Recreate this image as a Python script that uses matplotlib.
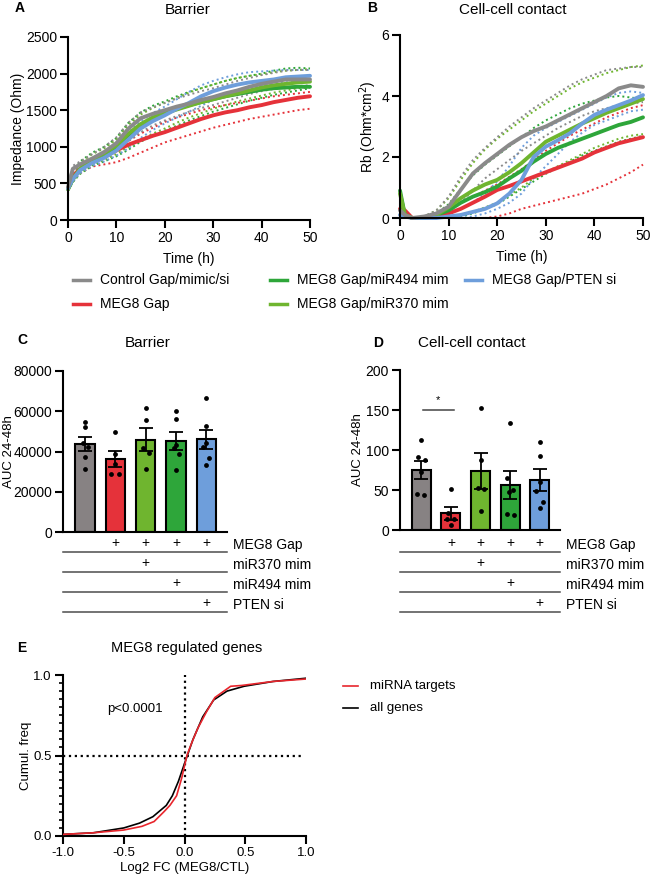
import numpy as np
import matplotlib.pyplot as plt
from matplotlib.lines import Line2D

plt.rcParams['font.family'] = ['Liberation Sans', 'DejaVu Sans']
plt.rcParams['axes.unicode_minus'] = False

# ---------------- data ----------------
# A / B: impedance time course (h), mean curves + two replicate curves per group
time_h = [0, 1, 2.5, 5, 7.5, 10, 12.5, 15, 17.5, 20, 22.5, 25, 27.5, 30, 32.5, 35, 37.5, 40, 42.5, 45, 47.5, 50]

groups = ['Control Gap/mimic/si', 'MEG8 Gap', 'MEG8 Gap/miR370 mim', 'MEG8 Gap/miR494 mim', 'MEG8 Gap/PTEN si']

barrier_mean = {
    'Control Gap/mimic/si': [450, 700, 760, 840, 930, 1050, 1250, 1390, 1450, 1500, 1550, 1590, 1640, 1680, 1730, 1770, 1820, 1860, 1890, 1920, 1920, 1920],
    'MEG8 Gap':             [430, 600, 700, 790, 860, 950, 1030, 1090, 1150, 1200, 1260, 1320, 1380, 1430, 1470, 1500, 1540, 1570, 1610, 1640, 1670, 1690],
    'MEG8 Gap/miR370 mim':  [420, 560, 700, 830, 910, 1020, 1180, 1310, 1400, 1460, 1510, 1560, 1610, 1650, 1690, 1730, 1770, 1810, 1840, 1860, 1880, 1890],
    'MEG8 Gap/miR494 mim':  [420, 560, 690, 820, 900, 1000, 1150, 1290, 1390, 1460, 1520, 1570, 1610, 1650, 1690, 1720, 1750, 1780, 1800, 1810, 1820, 1820],
    'MEG8 Gap/PTEN si':     [430, 560, 680, 780, 850, 950, 1100, 1250, 1350, 1430, 1520, 1600, 1690, 1760, 1810, 1850, 1880, 1900, 1920, 1950, 1960, 1970],
}
barrier_reps = {
    'Control Gap/mimic/si': [[480, 740, 800, 900, 1000, 1130, 1330, 1470, 1540, 1600, 1660, 1710, 1760, 1800, 1850, 1900, 1940, 1980, 2010, 2040, 2050, 2050],
                             [440, 650, 710, 790, 860, 950, 1080, 1200, 1290, 1360, 1420, 1480, 1530, 1570, 1620, 1670, 1720, 1760, 1790, 1810, 1830, 1840]],
    'MEG8 Gap':             [[440, 640, 730, 820, 880, 960, 1080, 1180, 1260, 1340, 1400, 1450, 1500, 1540, 1570, 1600, 1630, 1660, 1690, 1710, 1730, 1750],
                             [420, 540, 640, 730, 760, 790, 850, 920, 990, 1060, 1110, 1160, 1210, 1260, 1300, 1340, 1380, 1410, 1440, 1470, 1500, 1520]],
    'MEG8 Gap/miR370 mim':  [[440, 620, 780, 900, 980, 1100, 1300, 1440, 1530, 1600, 1670, 1740, 1800, 1850, 1900, 1940, 1970, 1990, 2020, 2040, 2050, 2060],
                             [400, 520, 640, 760, 820, 900, 1000, 1100, 1180, 1250, 1330, 1400, 1460, 1520, 1570, 1620, 1660, 1700, 1740, 1770, 1800, 1810]],
    'MEG8 Gap/miR494 mim':  [[440, 640, 800, 920, 1000, 1120, 1330, 1470, 1560, 1620, 1690, 1750, 1800, 1850, 1900, 1940, 1970, 2000, 2040, 2070, 2080, 2070],
                             [400, 520, 630, 740, 800, 870, 960, 1070, 1150, 1220, 1290, 1360, 1420, 1480, 1530, 1580, 1630, 1670, 1710, 1740, 1770, 1800]],
    'MEG8 Gap/PTEN si':     [[450, 600, 720, 820, 900, 1020, 1200, 1350, 1460, 1550, 1650, 1750, 1840, 1900, 1950, 1990, 2020, 2030, 2040, 2050, 2050, 2050],
                             [420, 520, 640, 740, 800, 880, 980, 1120, 1230, 1320, 1400, 1480, 1560, 1640, 1700, 1750, 1800, 1830, 1860, 1880, 1900, 1910]],
}

contact_mean = {
    'Control Gap/mimic/si': [0.25, 0.1, 0.0, 0.05, 0.15, 0.37, 0.92, 1.46, 1.8, 2.1, 2.4, 2.65, 2.85, 3.0, 3.2, 3.4, 3.6, 3.8, 4.0, 4.25, 4.35, 4.3],
    'MEG8 Gap':             [0.3, 0.25, 0.0, 0.0, 0.05, 0.15, 0.3, 0.5, 0.7, 0.92, 1.05, 1.2, 1.35, 1.5, 1.65, 1.8, 1.95, 2.15, 2.3, 2.45, 2.55, 2.65],
    'MEG8 Gap/miR370 mim':  [0.8, 0.1, 0.0, 0.0, 0.1, 0.35, 0.65, 0.9, 1.1, 1.25, 1.5, 1.8, 2.15, 2.5, 2.7, 2.9, 3.1, 3.27, 3.45, 3.6, 3.75, 3.9],
    'MEG8 Gap/miR494 mim':  [0.9, 0.1, 0.0, 0.0, 0.1, 0.25, 0.5, 0.7, 0.85, 1.03, 1.3, 1.55, 1.85, 2.1, 2.3, 2.45, 2.6, 2.75, 2.9, 3.05, 3.15, 3.3],
    'MEG8 Gap/PTEN si':     [0.1, 0.05, 0.0, 0.0, 0.0, 0.05, 0.1, 0.2, 0.3, 0.48, 0.8, 1.25, 2.0, 2.34, 2.55, 2.78, 3.1, 3.38, 3.55, 3.7, 3.85, 4.03],
}
contact_reps = {
    'Control Gap/mimic/si': [[0.25, 0.1, 0.0, 0.05, 0.25, 0.7, 1.35, 1.9, 2.3, 2.65, 3.0, 3.3, 3.6, 3.85, 4.1, 4.35, 4.55, 4.7, 4.85, 4.9, 4.95, 4.95],
                             [0.2, 0.05, 0.0, 0.0, 0.05, 0.2, 0.5, 0.9, 1.3, 1.6, 1.9, 2.2, 2.45, 2.7, 2.95, 3.15, 3.35, 3.5, 3.6, 3.7, 3.75, 3.8]],
    'MEG8 Gap':             [[0.3, 0.25, 0.0, 0.0, 0.1, 0.3, 0.5, 0.7, 0.9, 1.1, 1.35, 1.6, 1.9, 2.2, 2.45, 2.7, 2.9, 3.1, 3.3, 3.45, 3.6, 3.7],
                             [0.2, 0.1, 0.0, 0.0, 0.0, 0.0, 0.0, 0.0, 0.0, 0.05, 0.15, 0.3, 0.4, 0.5, 0.6, 0.7, 0.8, 0.95, 1.1, 1.3, 1.5, 1.75]],
    'MEG8 Gap/miR370 mim':  [[0.8, 0.1, 0.0, 0.05, 0.25, 0.65, 1.25, 1.8, 2.25, 2.6, 2.9, 3.2, 3.5, 3.75, 4.0, 4.25, 4.45, 4.6, 4.75, 4.85, 4.95, 5.0],
                             [0.6, 0.05, 0.0, 0.0, 0.0, 0.05, 0.1, 0.2, 0.35, 0.5, 0.75, 1.0, 1.3, 1.5, 1.7, 1.9, 2.1, 2.3, 2.45, 2.6, 2.7, 2.75]],
    'MEG8 Gap/miR494 mim':  [[0.9, 0.1, 0.0, 0.05, 0.15, 0.45, 0.95, 1.4, 1.75, 2.05, 2.35, 2.65, 2.95, 3.2, 3.4, 3.6, 3.75, 3.85, 3.95, 4.0, 3.95, 3.9],
                             [0.7, 0.05, 0.0, 0.0, 0.0, 0.0, 0.05, 0.15, 0.3, 0.45, 0.7, 0.95, 1.2, 1.45, 1.65, 1.85, 2.05, 2.2, 2.35, 2.5, 2.6, 2.7]],
    'MEG8 Gap/PTEN si':     [[0.1, 0.05, 0.0, 0.0, 0.05, 0.15, 0.3, 0.5, 0.8, 1.2, 1.7, 2.3, 2.7, 2.95, 3.15, 3.35, 3.55, 3.75, 3.95, 4.1, 4.15, 4.1],
                             [0.1, 0.0, 0.0, 0.0, 0.0, 0.0, 0.0, 0.05, 0.15, 0.3, 0.5, 0.8, 1.3, 1.7, 2.1, 2.5, 2.8, 3.05, 3.2, 3.35, 3.5, 3.55]],
}

# C / D: AUC 24-48h, individual replicates per group
auc_barrier = [
    [54800, 52300, 44000, 42300, 37300, 31500],
    [49800, 39000, 34000, 29000, 29000],
    [61700, 55600, 41500, 39300, 31200],
    [60000, 56000, 43000, 41500, 39000, 30700],
    [66500, 52800, 44000, 42000, 37000, 33500],
]
auc_contact = [
    [112.5, 90.8, 87.5, 72, 45, 43.75],
    [51.25, 20.8, 13.3, 13.3, 5.8],
    [153, 87, 52, 51, 24],
    [134, 64.6, 50, 48, 20, 18.75],
    [110, 93, 60, 49, 35, 27],
]
table_rows = ['MEG8 Gap', 'miR370 mim', 'miR494 mim', 'PTEN si']
table_plus = [
    [0, 1, 1, 1, 1],
    [0, 0, 1, 0, 0],
    [0, 0, 0, 1, 0],
    [0, 0, 0, 0, 1],
]

# E: cumulative frequency of log2 FC
all_x = [-1.0, -0.75, -0.5, -0.37, -0.26, -0.15, -0.1, -0.05, 0.0, 0.07, 0.15, 0.24, 0.35, 0.49, 0.73, 1.0]
all_y = [0.01, 0.02, 0.05, 0.08, 0.12, 0.19, 0.25, 0.34, 0.45, 0.6, 0.74, 0.845, 0.9, 0.93, 0.96, 0.98]
mir_x = [-1.0, -0.75, -0.5, -0.35, -0.25, -0.17, -0.12, -0.065, -0.023, 0.02, 0.06, 0.11, 0.18, 0.25, 0.38, 0.47, 0.73, 1.0]
mir_y = [0.01, 0.02, 0.037, 0.06, 0.09, 0.15, 0.19, 0.25, 0.36, 0.5, 0.58, 0.67, 0.77, 0.86, 0.93, 0.935, 0.96, 0.975]

# ---------------- style ----------------
colors = {
    'Control Gap/mimic/si': '#8a8a8a',
    'MEG8 Gap': '#e5323a',
    'MEG8 Gap/miR370 mim': '#6fb52f',
    'MEG8 Gap/miR494 mim': '#2ea63a',
    'MEG8 Gap/PTEN si': '#6e9edb',
}
bar_colors = ['#878283', '#e5323a', '#6fb52f', '#2ea63a', '#6e9edb']
draw_order = ['MEG8 Gap', 'MEG8 Gap/miR494 mim', 'MEG8 Gap/miR370 mim', 'MEG8 Gap/PTEN si', 'Control Gap/mimic/si']
jit_c = [[0, 0, -0.05, 0.1, 0, 0], [0, 0, 0, -0.13, 0.13], [0, 0, -0.1, 0.1, 0], [0, 0, 0, -0.05, 0.1, 0], [0, 0, 0, -0.12, 0.1, 0]]
jit_d = [[0, -0.1, 0.12, 0, -0.13, 0.1], [0, -0.1, -0.15, 0.1, 0], [0, 0, -0.1, 0.1, 0], [0, -0.1, 0.1, -0.05, -0.1, 0.12], [0, 0, 0, -0.12, 0.1, 0]]

W, H = 652, 882
LW = 1.5


def box(l, t, r, b):
    return [l / W, 1 - b / H, (r - l) / W, (b - t) / H]


def clean(ax, fs=10):
    for s in ['top', 'right']:
        ax.spines[s].set_visible(False)
    for s in ['left', 'bottom']:
        ax.spines[s].set_linewidth(LW)
    ax.tick_params(width=LW, length=5.5, pad=2.5, labelsize=fs, colors='black')


def ftext(x, y, s, **kw):
    fig.text(x / W, 1 - y / H, s, va='center', **kw)


fig = plt.figure(figsize=(W / 100, H / 100), dpi=100)

# ---------------- A & B ----------------
axA = fig.add_axes(box(68, 37, 310, 220))
axB = fig.add_axes(box(400, 35, 643, 218))
for ax, means, reps in [(axA, barrier_mean, barrier_reps), (axB, contact_mean, contact_reps)]:
    for g in draw_order:
        for r in reps[g]:
            ax.plot(time_h, r, color=colors[g], lw=1.4, ls=(0, (1, 1.6)), clip_on=False)
    for g in draw_order:
        ax.plot(time_h, means[g], color=colors[g], lw=2.8, solid_capstyle='round', clip_on=False)
    ax.set_xlim(0, 50)
    ax.set_xticks([0, 10, 20, 30, 40, 50])
    clean(ax)
    ax.set_xlabel('Time (h)', fontsize=10)
    ax.xaxis.set_label_coords(0.5, -0.175)

axA.set_ylim(0, 2500)
axA.set_yticks([0, 500, 1000, 1500, 2000, 2500])
axA.set_ylabel('Impedance (Ohm)', fontsize=10)
axA.yaxis.set_label_coords(-0.178, 0.5)
axB.set_ylim(0, 6)
axB.set_yticks([0, 2, 4, 6])
axB.set_ylabel('Rb (Ohm*cm$^2$)', fontsize=10)
axB.yaxis.set_label_coords(-0.086, 0.5)

ftext(15, 8, 'A', fontsize=10, fontweight='bold')
ftext(188, 10, 'Barrier', fontsize=11, ha='center')
ftext(367, 8, 'B', fontsize=10, fontweight='bold')
ftext(513, 10, 'Cell-cell contact', fontsize=11, ha='center')

# legend for A/B
legend_slots = [(73, 280, 'Control Gap/mimic/si'), (73, 304, 'MEG8 Gap'),
                (270, 280, 'MEG8 Gap/miR494 mim'), (270, 304, 'MEG8 Gap/miR370 mim'),
                (465, 280, 'MEG8 Gap/PTEN si')]
for x, y, g in legend_slots:
    fig.add_artist(Line2D([x / W, (x + 17) / W], [1 - y / H, 1 - y / H], color=colors[g], lw=2.5,
                          transform=fig.transFigure))
    ftext(x + 27, y, g, fontsize=10, ha='left')

# ---------------- C & D ----------------
def bar_panel(ax, tax, data, jit, ylim, yticks, fs_tab=10):
    xpos = np.arange(len(data))
    means = [np.mean(v) for v in data]
    sems = [np.std(v, ddof=1) / np.sqrt(len(v)) for v in data]
    ax.bar(xpos, means, width=0.64, color=bar_colors, edgecolor='black', linewidth=LW, zorder=2)
    ax.errorbar(xpos, means, yerr=sems, fmt='none', ecolor='black', elinewidth=1.3,
                capsize=5, capthick=1.3, zorder=3)
    for i, v in enumerate(data):
        ax.scatter(xpos[i] + np.array(jit[i]), v, s=12, color='black', zorder=4, linewidths=0)
    ax.set_xlim(-0.72, 4.68)
    ax.set_ylim(*ylim)
    ax.set_yticks(yticks)
    ax.set_xticks([])
    clean(ax)
    ax.set_ylabel('AUC 24-48h', fontsize=9.5)

    tax.set_xlim(-0.72, 4.68)
    tax.set_ylim(4, 0)
    tax.axis('off')
    for r, row in enumerate(table_plus):
        for i, flag in enumerate(row):
            if flag:
                tax.text(xpos[i], r + 0.42, '+', ha='center', va='center', fontsize=fs_tab)
        tax.plot([-0.72, 4.68], [r + 0.85, r + 0.85], color='#4d4d4d', lw=1.1, clip_on=False)
        tax.text(1.035, r + 0.5, table_rows[r], transform=tax.get_yaxis_transform(),
                 ha='left', va='center', fontsize=10)


axC = fig.add_axes(box(63, 371, 227, 532))
tabC = fig.add_axes(box(63, 535, 227, 615))
bar_panel(axC, tabC, auc_barrier, jit_c, (0, 80000), [0, 20000, 40000, 60000, 80000])
axC.yaxis.set_label_coords(-0.29, 0.5)

axD = fig.add_axes(box(400, 370, 560, 530))
tabD = fig.add_axes(box(400, 535, 560, 615))
bar_panel(axD, tabD, auc_contact, jit_d, (0, 200), [0, 50, 100, 150, 200])
axD.yaxis.set_label_coords(-0.225, 0.5)
axD.plot([0.05, 1.1], [150, 150], color='#444444', lw=1.1)
axD.text(0.55, 156, '*', ha='center', va='bottom', fontsize=8)

ftext(17, 340, 'C', fontsize=10, fontweight='bold')
ftext(148, 343, 'Barrier', fontsize=11, ha='center')
ftext(373, 343, 'D', fontsize=10, fontweight='bold')
ftext(472, 343, 'Cell-cell contact', fontsize=11, ha='center')

# ---------------- E ----------------
axE = fig.add_axes(box(63, 675, 306, 836))
axE.plot(all_x, all_y, color='black', lw=1.2, zorder=3)
axE.plot(mir_x, mir_y, color='#e8262d', lw=1.2, zorder=3)
axE.axvline(0, color='black', ls=':', lw=1.6)
axE.plot([-1, 0.98], [0.5, 0.5], color='black', ls=':', lw=1.6)
axE.set_xlim(-1, 1)
axE.set_ylim(0, 1)
axE.set_xticks([-1, -0.5, 0, 0.5, 1])
axE.set_xticklabels(['-1.0', '-0.5', '0.0', '0.5', '1.0'])
axE.set_yticks([0, 0.5, 1])
axE.set_yticklabels(['0.0', '0.5', '1.0'])
axE.set_yticks(np.arange(0, 1.0001, 0.05), minor=True)
clean(axE, fs=9.5)
axE.tick_params(which='minor', width=1.2, length=3)
axE.set_ylabel('Cumul. freq', fontsize=9.5)
axE.yaxis.set_label_coords(-0.128, 0.5)
axE.set_xlabel('Log2 FC (MEG8/CTL)', fontsize=9.5)
axE.xaxis.set_label_coords(0.5, -0.161)
axE.text(-0.64, 0.79, 'p<0.0001', ha='left', va='center', fontsize=9.5)

ftext(17, 648, 'E', fontsize=10, fontweight='bold')
ftext(187, 648, 'MEG8 regulated genes', fontsize=10.5, ha='center')
for y, c, lab in [(686, '#e8262d', 'miRNA targets'), (708, 'black', 'all genes')]:
    fig.add_artist(Line2D([343 / W, 358 / W], [1 - y / H, 1 - y / H], color=c, lw=1.2,
                          transform=fig.transFigure))
    ftext(370, y, lab, fontsize=9.5, ha='left')

fig.savefig('out.png', dpi=100)
